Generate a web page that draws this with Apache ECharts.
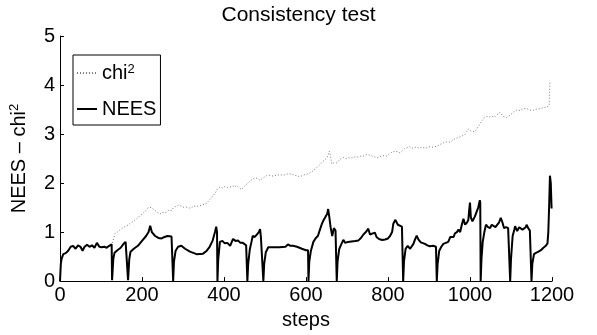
<!DOCTYPE html>
<html>
<head>
<meta charset="utf-8">
<script src="https://cdn.jsdelivr.net/npm/echarts@6/dist/echarts.min.js"></script>
<style>
  html, body { margin: 0; padding: 0; background: #fff; }
  #chart { width: 597px; height: 335px; }
</style>
</head>
<body>
<div id="chart"></div>
<script>
// NEES 曲线 [step, value]
var neesData = [
  [0,0],[2,0.35],[4,0.46],[8,0.55],[14,0.57],[20,0.62],[26,0.7],[32,0.72],[38,0.66],[44,0.73],[50,0.7],[55,0.62],[60,0.7],[66,0.74],[72,0.7],[78,0.73],[84,0.68],[90,0.78],[96,0.7],[102,0.69],[108,0.7],[114,0.68],[120,0.72],[126,0.75],
  [127,0.02],[128,0],[130,0.45],[133,0.58],[140,0.63],[148,0.68],[155,0.76],[160,0.8],[164,0.78],
  [166,0.02],[167,0],[169,0.45],[172,0.6],[180,0.66],[190,0.72],[200,0.82],[210,0.92],[216,1.0],[220,1.13],[224,1.0],[228,0.98],[232,0.92],[240,0.88],[248,0.87],[255,0.9],[262,0.92],[272,0.91],[275,0.9],
  [276,0],[278,0.4],[282,0.62],[288,0.7],[296,0.72],[305,0.66],[317,0.6],[333,0.55],[349,0.56],[358,0.62],[365,0.7],[372,0.82],[378,1.0],[381,1.11],[383,1.0],
  [384,0],[386,0.45],[390,0.8],[396,0.82],[402,0.77],[408,0.78],[415,0.72],[422,0.86],[428,0.82],[434,0.83],[440,0.78],[446,0.78],[454,0.73],[456,0.7],
  [457,0],[459,0.35],[463,0.65],[467,0.8],[470,0.92],[475,0.9],[480,0.95],[485,1.0],[488,1.06],[490,0.9],[494,0.87],
  [496,0],[498,0.35],[502,0.59],[508,0.69],[520,0.69],[535,0.69],[550,0.7],[556,0.75],[562,0.72],[568,0.72],[578,0.7],[590,0.66],[600,0.63],[605,0.63],
  [606,0],[608,0.4],[612,0.62],[618,0.8],[624,0.88],[629,0.92],[634,1.05],[638,1.15],[642,1.23],[645,1.2],[648,1.32],[652,1.38],[654,1.47],[657,1.3],[660,1.1],[664,0.92],[668,1.08],[672,1.03],[674,1.0],
  [675,0],[677,0.4],[681,0.65],[686,0.75],[691,0.84],[696,0.78],[702,0.8],[711,0.81],[720,0.82],[728,0.83],[734,0.88],[740,0.95],[746,1.0],[752,1.07],[756,0.95],[760,0.92],[768,0.99],[772,0.9],[778,0.86],[786,0.84],[793,0.85],[800,0.87],[805,0.92],[810,1.0],[813,1.17],[818,1.25],[821,1.29],[824,1.15],[828,1.12],[834,1.11],[836,1.1],
  [837,0],[839,0.4],[843,0.66],[848,0.72],[854,0.66],[858,0.7],[862,0.76],[866,0.85],[870,0.93],[874,0.85],[880,0.79],[890,0.76],[896,0.73],[902,0.71],[910,0.72],[917,0.7],
  [919,0],[921,0.35],[925,0.62],[930,0.7],[935,0.76],[941,0.78],[947,0.8],[952,0.9],[955,0.92],[960,0.9],[963,0.97],[968,1.0],[972,1.05],[976,1.0],[980,1.15],[984,1.27],[988,1.15],[993,1.2],[996,1.25],[998,1.45],[1000,1.6],[1002,1.3],[1006,1.22],[1012,1.32],[1016,1.3],[1020,1.5],[1024,1.65],[1025,1.6],
  [1026,0],[1028,0.45],[1031,0.8],[1035,1.0],[1039,1.15],[1044,1.1],[1049,1.08],[1053,1.15],[1057,1.14],[1062,1.1],[1066,1.13],[1071,1.2],[1075,1.29],[1079,1.2],[1083,1.08],[1088,1.1],[1093,1.08],[1097,1.07],
  [1098,0],[1100,0.45],[1104,0.92],[1108,1.05],[1110,1.12],[1115,1.02],[1120,1.1],[1124,1.13],[1128,1.05],[1132,1.06],[1136,1.1],[1138,1.15],[1142,1.08],[1146,1.03],[1149,1.01],
  [1150,0],[1152,0.35],[1156,0.55],[1162,0.58],[1167,0.6],[1173,0.63],[1179,0.68],[1185,0.72],[1189,0.77],[1191,1.0],[1193,1.52],[1195,2.15],[1197,2.0],[1199,1.48]
]

// chi2 阈值曲线 [step, value]
var chi2Data = [
  [128,0.78],[134,0.97],[140,1.0],[147,1.05],[154,1.09],[160,1.12],[167,1.15],[173,1.19],[179,1.22],[185,1.26],[191,1.3],[197,1.35],[203,1.39],[210,1.44],[215,1.5],[218,1.53],[222,1.5],[226,1.46],[232,1.44],[238,1.4],[244,1.37],[250,1.4],[256,1.39],[260,1.42],[266,1.45],[272,1.44],[276,1.49],[282,1.52],[289,1.55],[296,1.53],[303,1.5],[309,1.51],[315,1.49],[321,1.5],[327,1.53],[333,1.52],[340,1.54],[346,1.55],[352,1.57],[358,1.59],[364,1.65],[369,1.7],[374,1.75],[379,1.8],[384,1.88],[390,1.92],[396,1.9],[403,1.93],[409,1.91],[415,1.92],[421,1.94],[426,1.92],[431,1.95],[437,1.9],[443,1.87],[447,1.89],[452,1.95],[459,2.0],[464,2.05],[470,2.08],[476,2.11],[482,2.09],[488,2.06],[492,2.09],[498,2.12],[504,2.15],[512,2.16],[520,2.14],[528,2.16],[537,2.17],[545,2.16],[553,2.18],[561,2.19],[569,2.17],[577,2.15],[585,2.13],[593,2.16],[600,2.18],[606,2.19],[612,2.22],[617,2.25],[622,2.29],[628,2.33],[633,2.37],[638,2.42],[644,2.46],[649,2.5],[654,2.56],[657,2.65],[659,2.58],[663,2.39],[669,2.42],[675,2.41],[681,2.47],[686,2.5],[691,2.52],[697,2.5],[703,2.52],[709,2.51],[715,2.52],[722,2.54],[728,2.53],[734,2.55],[740,2.55],[748,2.58],[756,2.57],[762,2.55],[769,2.53],[776,2.52],[783,2.55],[790,2.56],[797,2.55],[804,2.6],[810,2.63],[817,2.65],[823,2.64],[829,2.62],[835,2.66],[840,2.7],[846,2.72],[853,2.74],[858,2.71],[864,2.73],[870,2.73],[876,2.71],[882,2.73],[888,2.72],[894,2.72],[900,2.74],[907,2.73],[913,2.74],[919,2.75],[925,2.78],[930,2.8],[935,2.82],[941,2.84],[948,2.83],[955,2.85],[960,2.89],[966,2.91],[972,2.93],[978,2.95],[983,2.97],[988,2.99],[992,3.05],[996,3.1],[1000,3.12],[1004,3.05],[1008,3.01],[1012,3.05],[1016,3.1],[1020,3.15],[1025,3.22],[1030,3.28],[1035,3.33],[1041,3.36],[1045,3.32],[1049,3.35],[1054,3.36],[1059,3.34],[1065,3.39],[1069,3.42],[1073,3.44],[1077,3.42],[1081,3.36],[1085,3.32],[1089,3.34],[1093,3.33],[1097,3.38],[1101,3.42],[1106,3.45],[1110,3.47],[1114,3.49],[1118,3.46],[1122,3.48],[1126,3.5],[1130,3.52],[1134,3.5],[1138,3.52],[1142,3.5],[1146,3.49],[1150,3.48],[1154,3.48],[1158,3.5],[1163,3.51],[1167,3.52],[1171,3.52],[1175,3.53],[1179,3.54],[1183,3.55],[1187,3.55],[1191,3.57],[1193,3.58],[1194,3.8],[1195,4.09],[1196,4.1]
]

var seriesNames = ['chi2', 'NEES']
var font = 'Liberation Sans, Arial, Helvetica, sans-serif'

var myChart = echarts.init(document.getElementById('chart'), null, { renderer: 'canvas' })

myChart.setOption({
  animation: false,
  backgroundColor: '#fff',
  textStyle: { fontFamily: font, color: '#000' },
  title: {
    text: 'Consistency test',
    left: 'center',
    top: 0,
    textStyle: { fontSize: 21, fontWeight: 'normal', color: '#000', fontFamily: font }
  },
  grid: { left: 60, right: 45, top: 36, bottom: 49 },
  legend: {
    left: 73,
    top: 55,
    orient: 'vertical',
    backgroundColor: '#fff',
    borderColor: '#000',
    borderWidth: 1,
    borderRadius: 0,
    padding: [8, 4, 6, 3],
    itemGap: 15,
    itemWidth: 20,
    itemHeight: 14,
    itemTextGap: 2,
    itemStyle: { opacity: 0 },
    data: seriesNames,
    formatter: function (name) {
      if (name === 'chi2') return '{a|chi}{s|2}'
      return '{a|' + name + '}'
    },
    textStyle: {
      color: '#000',
      fontFamily: font,
      rich: {
        a: { fontSize: 20, fontFamily: font, color: '#000', lineHeight: 20 },
        s: { fontSize: 13, fontFamily: font, color: '#000', verticalAlign: 'top', lineHeight: 20, padding: [0, 0, 8, 0] }
      }
    }
  },
  xAxis: {
    type: 'value',
    min: 0,
    max: 1200,
    interval: 200,
    name: 'steps',
    nameLocation: 'middle',
    nameGap: 24,
    nameTextStyle: { fontSize: 20, color: '#000', fontFamily: font },
    axisLine: { lineStyle: { color: '#000', width: 1 } },
    axisTick: { inside: true, length: 4, lineStyle: { color: '#000' } },
    axisLabel: {
      fontSize: 20, color: '#000', margin: 4, fontFamily: font,
      formatter: function (v) { return String(v) }
    },
    splitLine: { show: false }
  },
  yAxis: {
    type: 'value',
    min: 0,
    max: 5,
    interval: 1,
    name: '{a|NEES – chi}{s|2}',
    nameLocation: 'middle',
    nameGap: 30,
    nameTextStyle: {
      color: '#000',
      fontFamily: font,
      rich: {
        a: { fontSize: 20, fontFamily: font, color: '#000', lineHeight: 22 },
        s: { fontSize: 13, fontFamily: font, color: '#000', verticalAlign: 'top', lineHeight: 22, padding: [0, 0, 8, 0] }
      }
    },
    axisLine: { show: true, lineStyle: { color: '#000', width: 1 } },
    axisTick: { show: true, inside: true, length: 4, lineStyle: { color: '#000' } },
    axisLabel: { fontSize: 20, color: '#000', margin: 5, fontFamily: font },
    splitLine: { show: false }
  },
  series: [
    {
      name: 'chi2',
      type: 'line',
      data: chi2Data,
      showSymbol: false,
      symbol: 'none',
      lineStyle: { color: '#7a7a7a', width: 1, type: [1, 2] },
      itemStyle: { color: '#7a7a7a' }
    },
    {
      name: 'NEES',
      type: 'line',
      data: neesData,
      showSymbol: false,
      symbol: 'none',
      lineStyle: { color: '#000', width: 2 },
      itemStyle: { color: '#000' }
    }
  ]
})
</script>
</body>
</html>
